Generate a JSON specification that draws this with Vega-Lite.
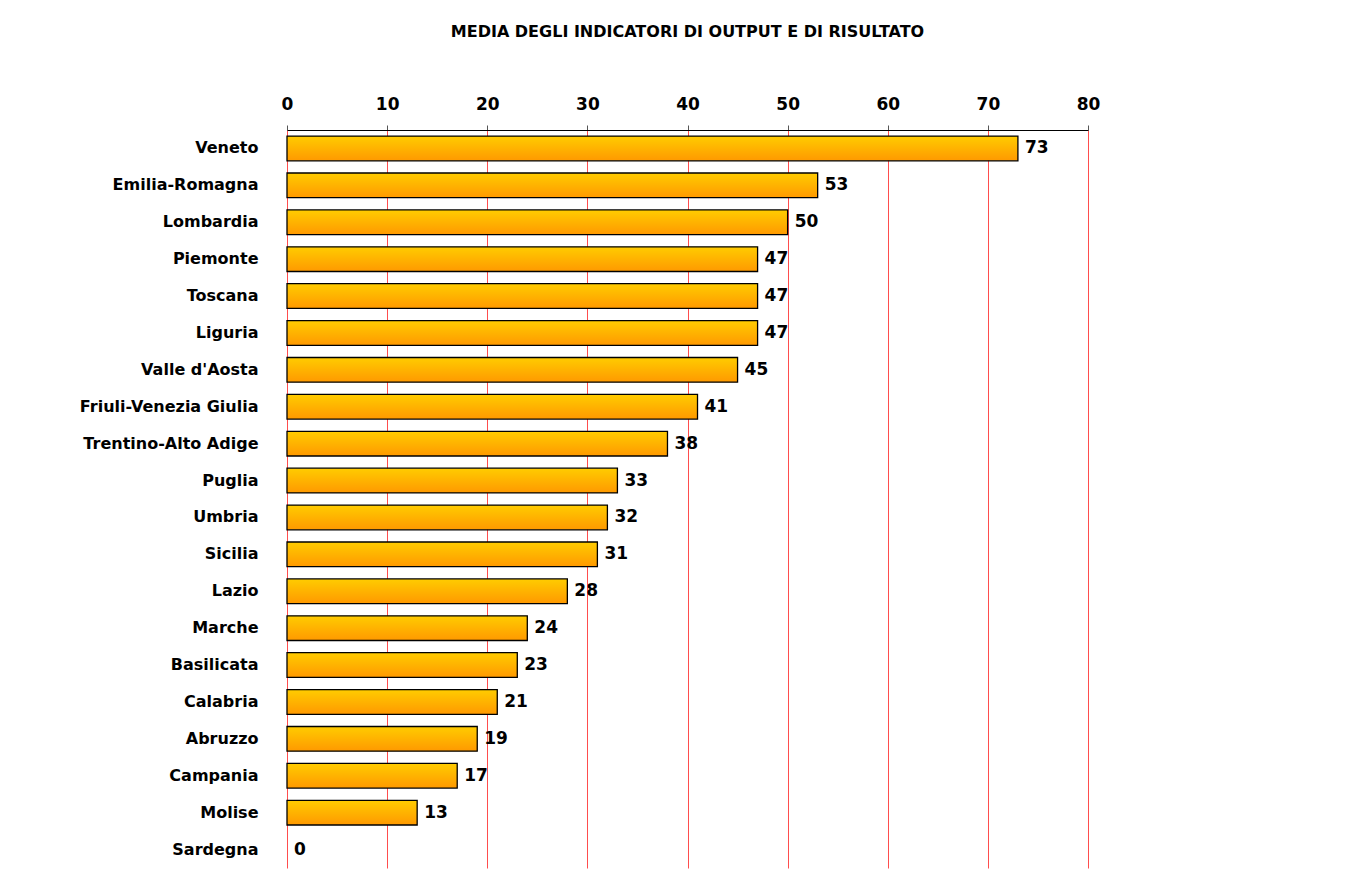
{
  "$schema": "https://vega.github.io/schema/vega-lite/v6.json",
  "autosize": {"type": "none"},
  "width": 801,
  "height": 738,
  "padding": {"left": 287, "top": 130, "right": 258, "bottom": 7},
  "background": "white",
  "title": {
    "text": "MEDIA DEGLI INDICATORI DI OUTPUT E DI RISULTATO",
    "font": "DejaVu Sans",
    "fontSize": 16,
    "fontWeight": "bold",
    "color": "black",
    "anchor": "middle",
    "offset": 55
  },
  "data": {
    "values": [
      {"regione": "Veneto", "valore": 73},
      {"regione": "Emilia-Romagna", "valore": 53},
      {"regione": "Lombardia", "valore": 50},
      {"regione": "Piemonte", "valore": 47},
      {"regione": "Toscana", "valore": 47},
      {"regione": "Liguria", "valore": 47},
      {"regione": "Valle d'Aosta", "valore": 45},
      {"regione": "Friuli-Venezia Giulia", "valore": 41},
      {"regione": "Trentino-Alto Adige", "valore": 38},
      {"regione": "Puglia", "valore": 33},
      {"regione": "Umbria", "valore": 32},
      {"regione": "Sicilia", "valore": 31},
      {"regione": "Lazio", "valore": 28},
      {"regione": "Marche", "valore": 24},
      {"regione": "Basilicata", "valore": 23},
      {"regione": "Calabria", "valore": 21},
      {"regione": "Abruzzo", "valore": 19},
      {"regione": "Campania", "valore": 17},
      {"regione": "Molise", "valore": 13},
      {"regione": "Sardegna", "valore": 0}
    ]
  },
  "encoding": {
    "y": {
      "field": "regione",
      "type": "nominal",
      "sort": null,
      "scale": {"paddingInner": 0.33, "paddingOuter": 0.165},
      "axis": {
        "title": null,
        "domain": false,
        "ticks": false,
        "labelPadding": 29,
        "labelFont": "DejaVu Sans",
        "labelFontSize": 16,
        "labelFontWeight": "bold",
        "labelColor": "black"
      }
    },
    "x": {
      "field": "valore",
      "type": "quantitative",
      "scale": {"domain": [0, 80], "nice": false},
      "axis": {
        "orient": "top",
        "title": null,
        "values": [0, 10, 20, 30, 40, 50, 60, 70, 80],
        "labelFlush": false,
        "domainColor": "black",
        "domainWidth": 1,
        "tickColor": "#555555",
        "tickSize": 5,
        "labelPadding": 12,
        "labelFont": "DejaVu Sans",
        "labelFontSize": 17,
        "labelFontWeight": "bold",
        "labelColor": "black",
        "grid": true,
        "gridColor": "#ff2020",
        "gridWidth": 1,
        "gridOpacity": 0.8
      }
    }
  },
  "layer": [
    {
      "mark": {
        "type": "bar",
        "stroke": "black",
        "strokeWidth": 1.3,
        "fill": {
          "gradient": "linear",
          "x1": 0, "y1": 0, "x2": 0, "y2": 1,
          "stops": [
            {"offset": 0, "color": "#ffcc00"},
            {"offset": 1, "color": "#ff9900"}
          ]
        }
      },
      "encoding": {
        "strokeOpacity": {
          "condition": {"test": "datum.valore > 0", "value": 1},
          "value": 0
        }
      }
    },
    {
      "mark": {
        "type": "text",
        "align": "left",
        "baseline": "middle",
        "dx": 7,
        "font": "DejaVu Sans",
        "fontSize": 17,
        "fontWeight": "bold",
        "color": "black"
      },
      "encoding": {"text": {"field": "valore", "type": "quantitative"}}
    }
  ],
  "config": {"view": {"stroke": null}}
}
